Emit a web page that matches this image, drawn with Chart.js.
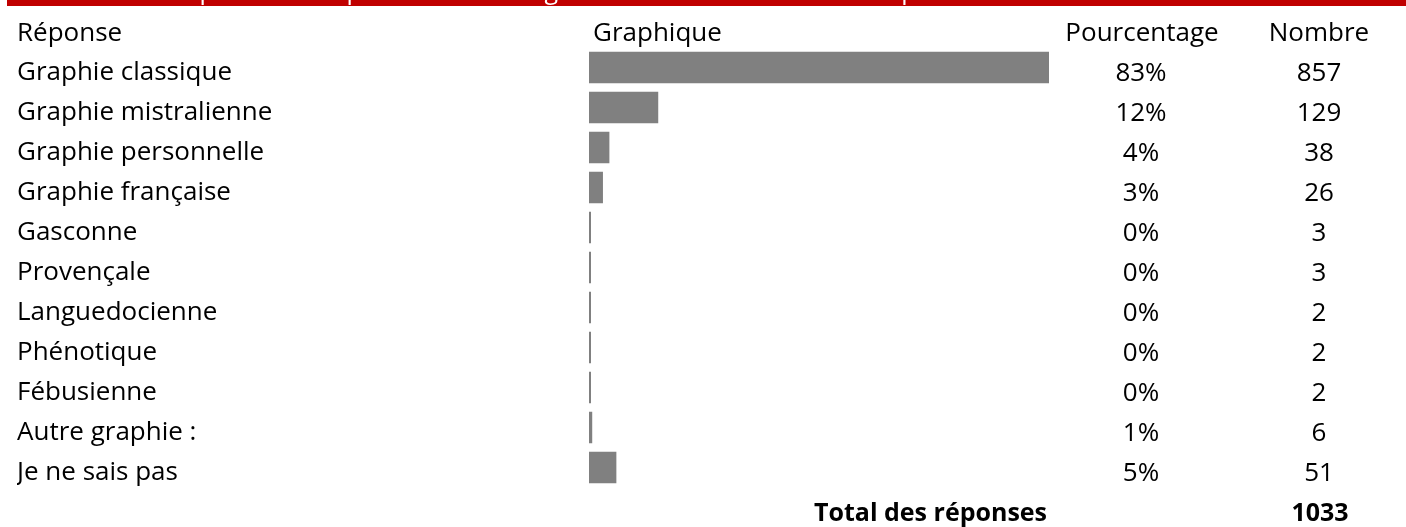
<!DOCTYPE html>
<html>
<head>
<meta charset="utf-8">
<script src="https://cdn.jsdelivr.net/npm/chart.js@4"></script>
<style>
  body { margin: 0; background: #ffffff; }
  canvas { display: block; }
</style>
</head>
<body>
<canvas id="myChart" width="1406" height="527"></canvas>
<script>
const titleText = "Tableau 22 : Graphie utilisée pour écrire la langue d'oc / occitan chez 1033 répondants";
const headers = ["Réponse", "Graphique", "Pourcentage", "Nombre"];
const categories = [
  "Graphie classique",
  "Graphie mistralienne",
  "Graphie personnelle",
  "Graphie française",
  "Gasconne",
  "Provençale",
  "Languedocienne",
  "Phénotique",
  "Fébusienne",
  "Autre graphie :",
  "Je ne sais pas",
];
const counts = [857, 129, 38, 26, 3, 3, 2, 2, 2, 6, 51];
const percents = [83, 12, 4, 3, 0, 0, 0, 0, 0, 1, 5];
const totalLabel = "Total des réponses";
const totalCount = 1033;

const FONT = "'Open Sans', sans-serif";
const SIZE = 26;

// columns drawn around the chart area
const tablePlugin = {
  id: "tablePlugin",
  beforeDraw(chart) {
    const ctx = chart.ctx;
    ctx.save();
    ctx.fillStyle = "#ffffff";
    ctx.fillRect(0, 0, chart.width, chart.height);
    // red title band, text cut at the top
    ctx.fillStyle = "#c00000";
    ctx.fillRect(7, 0, chart.width - 7, 6);
    ctx.beginPath();
    ctx.rect(7, 0, chart.width - 7, 6);
    ctx.clip();
    ctx.fillStyle = "#ffffff";
    ctx.font = "25px " + FONT;
    ctx.textAlign = "left";
    ctx.textBaseline = "alphabetic";
    ctx.fillText(titleText, 10, -1);
    ctx.restore();
  },
  afterDraw(chart) {
    const ctx = chart.ctx;
    const y = chart.scales.y;
    const area = chart.chartArea;
    ctx.save();
    ctx.fillStyle = "#000000";
    ctx.textBaseline = "alphabetic";
    ctx.font = SIZE + "px " + FONT;

    const headY = y.getPixelForValue(0) - 27;
    ctx.textAlign = "left";
    ctx.fillText(headers[0], 17, headY);
    ctx.fillText(headers[1], area.left + 4, headY);
    ctx.textAlign = "center";
    ctx.fillText(headers[2], 1142, headY);
    ctx.fillText(headers[3], 1319, headY);

    categories.forEach((c, i) => {
      const by = y.getPixelForValue(i) + 13;
      ctx.fillText(percents[i] + "%", 1141, by);
      ctx.fillText(String(counts[i]), 1319, by);
    });

    const ty = y.getPixelForValue(categories.length - 1) + 53;
    ctx.font = "bold 25px " + FONT;
    ctx.textAlign = "right";
    ctx.fillText(totalLabel, area.right - 2, ty);
    ctx.textAlign = "center";
    ctx.fillText(String(totalCount), 1320, ty);
    ctx.restore();
  },
};

const data = {
  labels: categories,
  datasets: [
    {
      label: "Nombre",
      data: counts,
      backgroundColor: "#808080",
      borderWidth: 0,
      barPercentage: 0.79,
      categoryPercentage: 1,
      minBarLength: 2,
    },
  ],
};

const config = {
  type: "bar",
  data,
  options: {
    indexAxis: "y",
    responsive: false,
    animation: false,
    devicePixelRatio: 1,
    layout: {
      padding: { left: 17, right: 357, top: 47.5, bottom: 39.5 },
    },
    plugins: {
      legend: { display: false },
      tooltip: { enabled: false },
    },
    scales: {
      x: {
        display: false,
        min: 0,
        max: 857,
      },
      y: {
        position: "left",
        grid: { display: false },
        border: { display: false },
        afterFit(scale) {
          scale.width = 572;
        },
        ticks: {
          crossAlign: "far",
          padding: 0,
          labelOffset: 5,
          color: "#000000",
          font: { family: FONT, size: SIZE },
        },
      },
    },
  },
  plugins: [tablePlugin],
};

new Chart(document.getElementById("myChart"), config);
</script>
</body>
</html>
